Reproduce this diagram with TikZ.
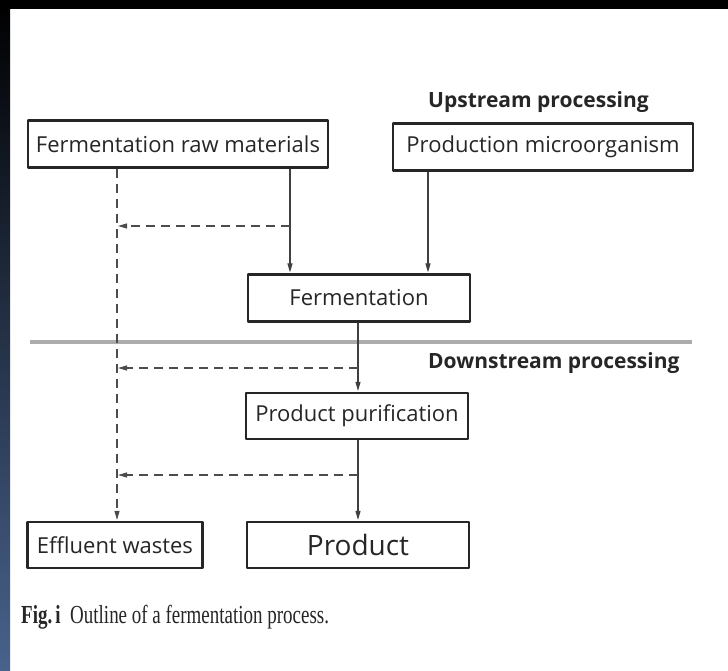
\documentclass[tikz,border=0pt]{standalone}
\usepackage{graphicx}
\usepackage{fontspec}
\setsansfont{Open Sans}
\setmainfont{Liberation Serif}
\usetikzlibrary{arrows.meta}

\begin{document}
\begin{tikzpicture}[x=1pt,y=-1pt,line join=round,
    >={Triangle[length=9pt,width=5pt]},
    box/.style={draw=black!85,line width=2.2pt,minimum height=47pt,inner sep=0pt,
      font=\sffamily\fontsize{22}{24}\selectfont,text=black!85},
    flow/.style={draw=black!75,line width=1.1pt,->,shorten >=1pt},
    waste/.style={draw=black!70,line width=1.1pt,dash pattern=on 9pt off 6pt,->,shorten >=1pt},
    head/.style={font=\sffamily\bfseries\fontsize{21}{23}\selectfont,text=black!85,inner sep=0pt}]
  % page and the dark edges of the scan
  \useasboundingbox (0,0) rectangle (728,670);
  \fill[white] (0,0) rectangle (728,670);
  \shade[top color=black,middle color=black,bottom color={rgb,255:red,72;green,98;blue,140}] (0,0) rectangle (10,670);
  \fill[black] (0,0) rectangle (728,9);
  % boxes
  \node[box,minimum width=300pt] (raw) at (178,144) {Fermentation raw materials};
  \node[box,minimum width=300pt] (micro) at (543,147) {Production microorganism};
  \node[box,minimum width=222pt] (ferm) at (359,298) {Fermentation};
  \node[box,minimum width=222pt,minimum height=46pt] (purif) at (357,416) {Product purification};
  \node[box,minimum width=175pt,minimum height=46pt] (effl) at (115,545) {Effluent wastes};
  \node[box,minimum width=222pt,minimum height=46pt,font=\sffamily\fontsize{28}{30}\selectfont] (prod) at (358,545) {Product};
  \node[head,anchor=west] (up) at (428,102) {Upstream processing};
  \node[head,anchor=west] (down) at (428,363) {Downstream processing};
  \draw[gray!65,line width=4.5pt] (30,342) -- (692,342);
  % x of the flows, y of the waste branches
  \coordinate (xr) at (290,0);
  \coordinate (xm) at (428,0);
  \coordinate (xw) at (117,0);
  \coordinate (xp) at (358,0);
  \coordinate (d1) at (0,226);
  \coordinate (d2) at (0,368);
  \coordinate (d3) at (0,475);
  \draw[flow] (raw.south -| xr) -- (ferm.north -| xr);
  \draw[flow] (micro.south -| xm) -- (ferm.north -| xm);
  \draw[flow] (ferm.south -| xp) -- (purif.north -| xp);
  \draw[flow] (purif.south -| xp) -- (prod.north -| xp);
  \draw[waste] (raw.south -| xw) -- (effl.north -| xw);
  \draw[waste] (xr |- d1) -- (xw |- d1);
  \draw[waste] (xp |- d2) -- (xw |- d2);
  \draw[waste] (xp |- d3) -- (xw |- d3);
  % caption
  \node[anchor=west,font=\fontsize{26}{28}\selectfont,text=black!85,inner sep=0pt] (cap) at (21,617)
    {\scalebox{0.73}[1]{\textbf{Fig.\,i}\enspace Outline of a fermentation process.}};
\end{tikzpicture}
\end{document}
